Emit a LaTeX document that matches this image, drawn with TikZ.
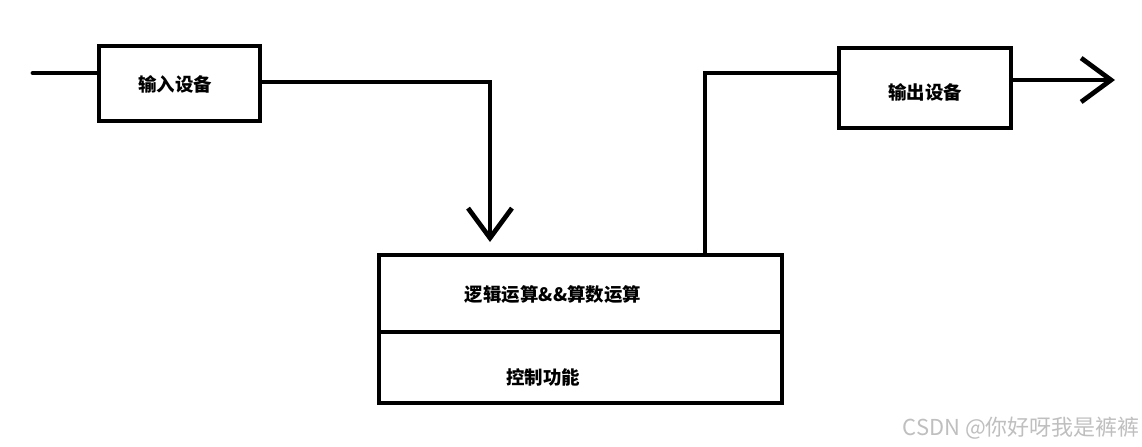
\documentclass[tikz,border=0pt]{standalone}
\usepackage{fontspec}
\newfontfamily\cjk{Noto Sans CJK SC}
\usepackage{tikz}
\usetikzlibrary{positioning, calc, arrows.meta}
\tikzset{
    unit box/.style={rectangle, draw, line width=2.7pt, inner sep=0pt},
    box text/.style={font=\cjk\bfseries\fontsize{10.5}{12}\selectfont, inner sep=0pt},
    wire/.style={line width=2.7pt, line cap=round},
    open tip/.style={-{Straight Barb[length=17pt, width=25pt, line width=2.7pt]}},
    mark text/.style={font=\cjk\fontsize{12.5}{14}\selectfont, text=black!25, anchor=east, inner sep=0pt},
}

\begin{document}
\begin{tikzpicture}[x=0.02cm, y=-0.02cm]
            \useasboundingbox[fill=white] (0,0) rectangle (1142,446);
            % boxes
            \node[unit box, minimum width=3.22cm, minimum height=1.5cm] (inbox) at (179.5,83.5) {};
            \node[unit box, minimum width=3.44cm, minimum height=1.6cm] (outbox) at (925,88) {};
            \node[unit box, minimum width=8.06cm, minimum height=1.54cm] (alu) at (580.5,293.5) {};
            \node[unit box, minimum width=8.06cm, minimum height=1.42cm] (ctrl) at (580.5,367.5) {};
            % texts
            \node[box text] (intext) at (175,84) {输入设备};
            \node[box text] (outtext) at (925,92) {输出设备};
            \node[box text] (alutext) at (553,295) {逻辑运算\&\&算数运算};
            \node[box text] (ctrltext) at (543,377) {控制功能};
            % connectors
            \coordinate (inStart) at (33,73);
            \coordinate (inTurn) at (490,82);
            \coordinate (downTip) at (490,242);
            \coordinate (upBend) at (705,73);
            \coordinate (outEnd) at (1115,80);
            \draw[wire] (inStart) -- (inStart -| inbox.west);
            \draw[wire, open tip] (inTurn -| inbox.east) -- (inTurn) -- (downTip);
            \draw[wire] (upBend |- alu.north) -- (upBend) -- (upBend -| outbox.west);
            \draw[wire, open tip] (outEnd -| outbox.east) -- (outEnd);
            \node[mark text] (mark) at (1140,428) {CSDN @你好呀我是裤裤};
        \end{tikzpicture}
\end{document}
